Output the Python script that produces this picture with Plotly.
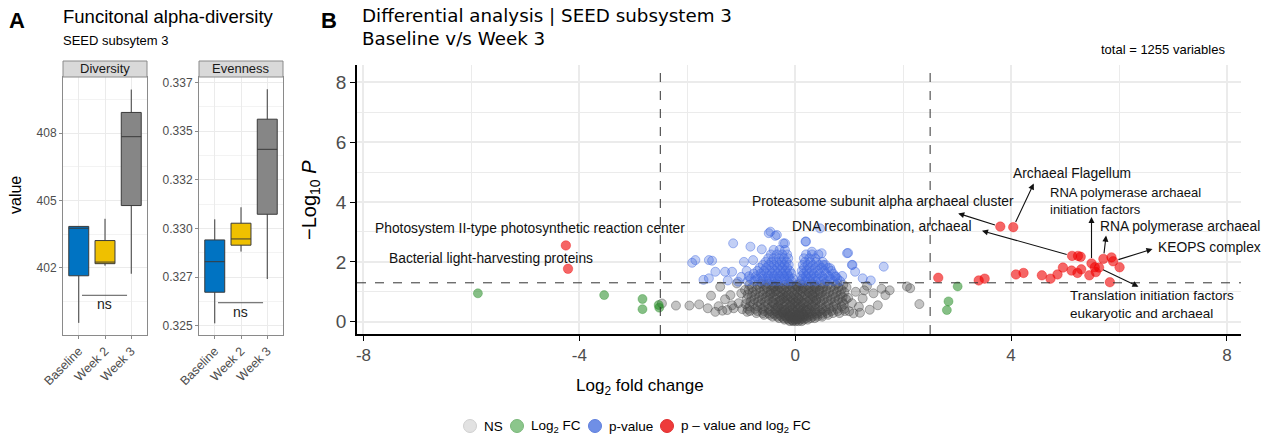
import plotly.graph_objects as go

W, H = 1274, 438

# ---------------- Panel A data ----------------
categories = ["Baseline", "Week 2", "Week 3"]
box_colors = ["#0073C2", "#EFC000", "#868686"]

div_lower = [399.54, 402.09, 401.73]
div_q1 = [401.64, 402.18, 404.77]
div_median = [403.76, 402.25, 407.84]
div_q3 = [403.84, 403.21, 408.92]
div_upper = [403.84, 404.18, 409.94]

even_lower = [0.32512, 0.32881, 0.32740]
even_q1 = [0.32672, 0.32914, 0.33073]
even_median = [0.32829, 0.32946, 0.33407]
even_q3 = [0.32941, 0.33027, 0.33562]
even_upper = [0.33047, 0.33109, 0.33716]

div_ticks = [402, 405, 408]
div_ticktext = ["402", "405", "408"]
even_ticks = [0.325, 0.3275, 0.330, 0.3325, 0.335, 0.3375]
even_ticktext = ["0.325", "0.327", "0.330", "0.332", "0.335", "0.337"]

# ---------------- Panel B data (log2FC, -log10 P) ----------------
ns_rows = """
-2.47 0.61|-2.21 0.54|-1.96 0.54|-1.78 0.58|-1.56 0.87|-1.62 0.45|-1.48 0.33|-1.39 1.17|-1.20 0.89|-1.08 1.28
-1.26 0.39|-1.14 0.45|-0.93 1.06|-0.89 0.33|-1.35 0.37|-1.05 0.62|-1.00 0.95|-1.30 0.75|-1.17 0.55|-0.98 0.42|-1.42 0.52
2.13 1.12|2.07 1.18|2.30 0.59|1.67 0.89|1.53 0.55|1.45 0.95|1.33 1.20|1.25 0.78|1.18 0.50|1.12 1.00|1.05 0.62
1.38 0.40|1.00 0.35|1.60 1.10|1.75 1.05|0.95 1.15|1.20 0.30|1.08 0.28|0.98 0.80|1.28 1.05
-0.10 0.02|-0.04 0.02|0.01 0.02|0.06 0.02|0.12 0.02
-0.20 0.07|-0.13 0.07|-0.07 0.07|-0.01 0.07|0.04 0.07|0.10 0.07|0.16 0.07|0.23 0.07
-0.30 0.12|-0.22 0.12|-0.15 0.12|-0.09 0.12|-0.03 0.12|0.02 0.12|0.08 0.12|0.14 0.12|0.21 0.12|0.29 0.12|0.36 0.12
-0.42 0.17|-0.33 0.17|-0.25 0.17|-0.17 0.17|-0.10 0.17|-0.04 0.17|0.03 0.17|0.09 0.17|0.16 0.17|0.24 0.17|0.32 0.17|0.41 0.17|0.50 0.17
-0.58 0.23|-0.47 0.23|-0.38 0.23|-0.29 0.23|-0.21 0.23|-0.13 0.23|-0.05 0.23|0.02 0.23|0.08 0.23|0.15 0.23|0.23 0.23|0.31 0.23|0.40 0.23|0.50 0.23|0.61 0.23
-0.72 0.29|-0.60 0.29|-0.50 0.29|-0.41 0.29|-0.32 0.29|-0.23 0.29|-0.15 0.29|-0.07 0.29|0.00 0.29|0.07 0.29|0.14 0.29|0.22 0.29|0.31 0.29|0.40 0.29|0.49 0.29|0.59 0.29|0.70 0.29|0.82 0.29
-0.84 0.36|-0.70 0.36|-0.58 0.36|-0.47 0.36|-0.37 0.36|-0.28 0.36|-0.19 0.36|-0.11 0.36|-0.03 0.36|0.04 0.36|0.11 0.36|0.19 0.36|0.28 0.36|0.37 0.36|0.46 0.36|0.56 0.36|0.67 0.36|0.79 0.36|0.92 0.36
-0.88 0.43|-0.74 0.43|-0.61 0.43|-0.49 0.43|-0.37 0.43|-0.26 0.43|-0.15 0.43|-0.05 0.43|0.05 0.43|0.15 0.43|0.26 0.43|0.38 0.43|0.50 0.43|0.63 0.43|0.77 0.43|0.91 0.43
-0.85 0.51|-0.70 0.51|-0.57 0.51|-0.44 0.51|-0.32 0.51|-0.21 0.51|-0.10 0.51|0.00 0.51|0.10 0.51|0.21 0.51|0.32 0.51|0.44 0.51|0.57 0.51|0.71 0.51|0.86 0.51
-0.92 0.59|-0.78 0.59|-0.64 0.59|-0.51 0.59|-0.39 0.59|-0.27 0.59|-0.16 0.59|-0.06 0.59|0.04 0.59|0.14 0.59|0.25 0.59|0.37 0.59|0.49 0.59|0.62 0.59|0.76 0.59|0.90 0.59
-0.83 0.67|-0.69 0.67|-0.56 0.67|-0.43 0.67|-0.31 0.67|-0.20 0.67|-0.09 0.67|0.01 0.67|0.11 0.67|0.22 0.67|0.34 0.67|0.46 0.67|0.59 0.67|0.73 0.67|0.87 0.67
-0.90 0.75|-0.76 0.75|-0.62 0.75|-0.49 0.75|-0.37 0.75|-0.25 0.75|-0.14 0.75|-0.04 0.75|0.06 0.75|0.17 0.75|0.28 0.75|0.40 0.75|0.53 0.75|0.66 0.75|0.80 0.75|0.94 0.75
-0.81 0.83|-0.67 0.83|-0.54 0.83|-0.41 0.83|-0.29 0.83|-0.18 0.83|-0.08 0.83|0.02 0.83|0.12 0.83|0.23 0.83|0.35 0.83|0.47 0.83|0.60 0.83|0.74 0.83|0.88 0.83
-0.88 0.91|-0.74 0.91|-0.60 0.91|-0.47 0.91|-0.35 0.91|-0.23 0.91|-0.12 0.91|-0.02 0.91|0.08 0.91|0.19 0.91|0.31 0.91|0.43 0.91|0.56 0.91|0.70 0.91|0.84 0.91
-0.79 0.99|-0.65 0.99|-0.52 0.99|-0.40 0.99|-0.28 0.99|-0.17 0.99|-0.06 0.99|0.04 0.99|0.14 0.99|0.25 0.99|0.37 0.99|0.50 0.99|0.63 0.99|0.77 0.99|0.91 0.99
-0.86 1.07|-0.72 1.07|-0.58 1.07|-0.45 1.07|-0.33 1.07|-0.21 1.07|-0.10 1.07|0.00 1.07|0.10 1.07|0.21 1.07|0.33 1.07|0.45 1.07|0.58 1.07|0.72 1.07|0.86 1.07
-0.80 1.15|-0.66 1.15|-0.53 1.15|-0.40 1.15|-0.28 1.15|-0.16 1.15|-0.05 1.15|0.05 1.15|0.16 1.15|0.27 1.15|0.39 1.15|0.52 1.15|0.66 1.15|0.80 1.15
-0.85 1.23|-0.70 1.23|-0.56 1.23|-0.43 1.23|-0.31 1.23|-0.19 1.23|-0.08 1.23|0.03 1.23|0.13 1.23|0.24 1.23|0.36 1.23|0.48 1.23|0.61 1.23|0.75 1.23|0.89 1.23
-0.62 1.28|-0.36 1.28|-0.12 1.28|0.09 1.28|0.30 1.28|0.55 1.28|0.78 1.28
-0.05 0.05|0.03 0.10|-0.12 0.20|0.12 0.26|-0.24 0.33|0.21 0.40|-0.33 0.47|0.30 0.55|-0.41 0.63|0.39 0.71
-0.20 0.40|0.08 0.47|-0.09 0.55|0.17 0.63|-0.28 0.71|0.05 0.79|-0.15 0.87|0.26 0.95|-0.36 1.03|0.14 1.11
-0.02 0.63|-0.22 0.79|0.32 0.87|-0.46 0.95|0.45 1.03|-0.25 1.11|0.02 1.19|-0.38 1.19|0.36 1.19|-0.50 1.27
"""

p_rows = """
-1.91 1.97|-1.85 2.06|-1.60 2.06|-1.54 2.04|-1.48 1.67|-1.70 1.40|-1.60 1.45|-1.30 1.67|-1.17 1.67|-1.15 2.62
-1.06 1.34|-0.90 1.70|-0.83 2.51|-0.78 2.06|-0.62 2.42|-0.49 2.96|-0.37 2.87|-0.46 3.01|-0.34 2.90|-0.19 2.62
-0.22 2.62|0.20 2.68|0.31 2.34|0.49 2.29|0.52 1.90|0.65 1.79|0.74 1.51|0.46 3.12|0.19 2.68|0.96 2.29
1.05 1.90|1.64 1.84|0.98 2.30|1.06 1.90|1.11 1.67|0.87 1.53|1.25 1.45|1.40 1.38|-1.25 1.38|-1.00 1.50|-0.95 2.00
-0.88 1.36|-0.76 1.36|-0.64 1.36|-0.53 1.36|-0.43 1.36|-0.33 1.36|-0.24 1.36|-0.15 1.36|-0.07 1.36
-0.82 1.44|-0.70 1.44|-0.59 1.44|-0.48 1.44|-0.38 1.44|-0.29 1.44|-0.20 1.44|-0.11 1.44|-0.04 1.44
-0.86 1.52|-0.73 1.52|-0.61 1.52|-0.50 1.52|-0.40 1.52|-0.30 1.52|-0.21 1.52|-0.12 1.52
-0.77 1.61|-0.64 1.61|-0.53 1.61|-0.43 1.61|-0.33 1.61|-0.24 1.61|-0.15 1.61|-0.07 1.61
-0.70 1.70|-0.58 1.70|-0.47 1.70|-0.37 1.70|-0.27 1.70|-0.18 1.70|-0.10 1.70
-0.66 1.80|-0.54 1.80|-0.43 1.80|-0.33 1.80|-0.24 1.80|-0.15 1.80
-0.60 1.90|-0.49 1.90|-0.39 1.90|-0.29 1.90|-0.20 1.90|-0.12 1.90
-0.55 2.00|-0.44 2.00|-0.34 2.00|-0.25 2.00|-0.16 2.00
-0.50 2.12|-0.40 2.12|-0.30 2.12|-0.21 2.12|-0.13 2.12
-0.45 2.25|-0.34 2.25|-0.24 2.25|-0.15 2.25
-0.40 2.40|-0.29 2.40|-0.19 2.40
0.10 1.36|0.19 1.36|0.28 1.36|0.38 1.36|0.48 1.36|0.59 1.36|0.71 1.36|0.83 1.36
0.13 1.44|0.22 1.44|0.32 1.44|0.42 1.44|0.53 1.44|0.65 1.44|0.78 1.44
0.11 1.52|0.20 1.52|0.29 1.52|0.39 1.52|0.50 1.52|0.62 1.52|0.75 1.52
0.15 1.61|0.24 1.61|0.34 1.61|0.45 1.61|0.57 1.61|0.70 1.61
0.12 1.70|0.21 1.70|0.31 1.70|0.42 1.70|0.54 1.70|0.67 1.70
0.16 1.80|0.26 1.80|0.37 1.80|0.49 1.80|0.61 1.80
0.14 1.90|0.23 1.90|0.33 1.90|0.44 1.90|0.56 1.90
0.18 2.00|0.28 2.00|0.39 2.00|0.51 2.00
0.16 2.12|0.26 2.12|0.37 2.12
0.20 2.25|0.31 2.25|0.43 2.25
"""

fc_x = [-5.88, -3.54, -2.83, -2.83, -2.53, -2.52, 3.01, 2.84, 2.81]
fc_y = [0.95, 0.89, 0.76, 0.42, 0.56, 0.47, 1.18, 0.68, 0.39]

both_x = [-4.25, -4.21, 2.65, 3.40, 3.51, 3.80, 4.04, 4.09, 4.23, 4.57, 4.73, 4.86, 4.96, 5.12,
          5.13, 5.24, 5.29, 5.23, 5.30, 5.45, 5.49, 5.55, 5.57, 5.63, 5.71, 5.83, 5.86, 5.89, 6.01]
both_y = [2.55, 1.77, 1.47, 1.38, 1.44, 3.18, 3.16, 1.58, 1.63, 1.55, 1.44, 1.58, 1.81, 1.71,
          2.20, 2.20, 2.17, 1.63, 1.75, 1.55, 1.95, 1.82, 1.66, 1.81, 2.10, 1.32, 2.15, 2.02, 1.82]


def parse(rows):
    xs, ys = [], []
    for tok in rows.replace("\n", "|").split("|"):
        tok = tok.strip()
        if tok:
            a, b = tok.split()
            xs.append(float(a))
            ys.append(float(b))
    return xs, ys


ns_x, ns_y = parse(ns_rows)
p_x, p_y = parse(p_rows)

fc_cut = 2.5
p_cut = 1.301

labels_text = [
    "Proteasome subunit alpha archaeal cluster",
    "Archaeal Flagellum",
    "RNA polymerase archaeal<br>initiation factors",
    "RNA polymerase archaeal",
    "KEOPS complex",
    "DNA recombination, archaeal",
    "Translation initiation factors<br>eukaryotic and archaeal",
    "Photosystem II-type photosynthetic reaction center",
    "Bacterial light-harvesting proteins",
]
label_sizes = [13.8, 13.8, 13, 13.8, 13.8, 13.8, 13.5, 13.8, 13.8]


def px(x):
    return x / W


def py(y):
    return 1 - y / H


fig = go.Figure()

# ---------------- Panel A boxes ----------------
for i, c in enumerate(categories):
    fig.add_trace(go.Box(
        x=[i + 1], q1=[div_q1[i]], median=[div_median[i]], q3=[div_q3[i]],
        lowerfence=[div_lower[i]], upperfence=[div_upper[i]],
        fillcolor=box_colors[i], line=dict(color="#3a3a3a", width=1),
        width=0.76, whiskerwidth=0, boxpoints=False, showlegend=False,
        xaxis="x", yaxis="y", hoverinfo="skip"))
    fig.add_trace(go.Box(
        x=[i + 1], q1=[even_q1[i]], median=[even_median[i]], q3=[even_q3[i]],
        lowerfence=[even_lower[i]], upperfence=[even_upper[i]],
        fillcolor=box_colors[i], line=dict(color="#3a3a3a", width=1),
        width=0.76, whiskerwidth=0, boxpoints=False, showlegend=False,
        xaxis="x2", yaxis="y2", hoverinfo="skip"))

# ---------------- Panel B points ----------------
fig.add_trace(go.Scatter(
    x=ns_x, y=ns_y, mode="markers", xaxis="x3", yaxis="y3", showlegend=False,
    marker=dict(size=9, color="rgba(70,70,70,0.32)", line=dict(width=1, color="rgba(70,70,70,0.42)"))))
fig.add_trace(go.Scatter(
    x=fc_x, y=fc_y, mode="markers", xaxis="x3", yaxis="y3", showlegend=False,
    marker=dict(size=9, color="rgba(34,139,34,0.55)", line=dict(width=1, color="rgba(34,139,34,0.35)"))))
fig.add_trace(go.Scatter(
    x=p_x, y=p_y, mode="markers", xaxis="x3", yaxis="y3", showlegend=False,
    marker=dict(size=9, color="rgba(65,105,225,0.32)", line=dict(width=1, color="rgba(65,105,225,0.45)"))))
fig.add_trace(go.Scatter(
    x=both_x, y=both_y, mode="markers", xaxis="x3", yaxis="y3", showlegend=False,
    marker=dict(size=9.5, color="rgba(238,0,0,0.6)", line=dict(width=1, color="rgba(238,0,0,0.35)"))))

grid = "#ebebeb"
tick_font = dict(size=12, color="#4d4d4d")

common_a_x = dict(range=[0.4, 3.6], tickmode="array", tickvals=[1, 2, 3], ticktext=categories,
                  tickangle=-45, showgrid=True, gridcolor=grid, gridwidth=1, zeroline=False,
                  showline=True, mirror=True, linecolor="#8a8a8a", linewidth=1, automargin=False,
                  ticks="outside", ticklen=3, tickcolor="#8a8a8a", tickfont=dict(size=12.5, color="#4d4d4d"))

fig.update_layout(
    template="none",
    width=W, height=H, margin=dict(l=0, r=0, t=0, b=0, autoexpand=False),
    paper_bgcolor="white", plot_bgcolor="white", showlegend=False,
    font=dict(family="Liberation Sans, Arial, sans-serif", color="black"),
    xaxis=dict(domain=[px(63), px(147)], anchor="y", **common_a_x),
    yaxis=dict(domain=[py(335), py(77)], anchor="x", range=[399.0, 410.5], automargin=False,
               tickmode="array", tickvals=div_ticks, ticktext=div_ticktext,
               minor=dict(tickvals=[400.5, 403.5, 406.5, 409.5], showgrid=True, gridcolor="#f3f3f3", gridwidth=1, ticks=""),
               showgrid=True, gridcolor=grid, gridwidth=1, zeroline=False,
               showline=True, mirror=True, linecolor="#8a8a8a", linewidth=1,
               ticks="outside", ticklen=3, tickcolor="#8a8a8a", tickfont=tick_font),
    xaxis2=dict(domain=[px(199), px(283)], anchor="y2", **common_a_x),
    yaxis2=dict(domain=[py(335), py(77)], anchor="x2", range=[0.32452, 0.33779], automargin=False,
                tickmode="array", tickvals=even_ticks, ticktext=even_ticktext,
                minor=dict(tickvals=[0.32625, 0.32875, 0.33125, 0.33375, 0.33625], showgrid=True, gridcolor="#f3f3f3", gridwidth=1, ticks=""),
                showgrid=True, gridcolor=grid, gridwidth=1, zeroline=False,
                showline=True, mirror=True, linecolor="#8a8a8a", linewidth=1,
                ticks="outside", ticklen=3, tickcolor="#8a8a8a", tickfont=tick_font),
    xaxis3=dict(domain=[px(357), px(1241)], anchor="y3", range=[-8.12, 8.26], automargin=False,
                tickmode="array", tickvals=[-8, -4, 0, 4, 8], ticktext=["-8", "-4", "0", "4", "8"],
                minor=dict(tickvals=[-6, -2, 2, 6], showgrid=True, gridcolor=grid, gridwidth=1, ticks=""),
                showgrid=True, gridcolor=grid, gridwidth=2, zeroline=False,
                showline=True, linecolor="black", linewidth=1.6,
                ticks="outside", ticklen=5, tickcolor="black", tickwidth=1.2,
                tickfont=dict(size=17, color="#4d4d4d")),
    yaxis3=dict(domain=[py(334), py(65)], anchor="x3", range=[-0.41, 8.58], automargin=False,
                tickmode="array", tickvals=[0, 2, 4, 6, 8], ticktext=["0", "2", "4", "6", "8"],
                minor=dict(tickvals=[1, 3, 5, 7], showgrid=True, gridcolor=grid, gridwidth=1, ticks=""),
                showgrid=True, gridcolor=grid, gridwidth=2, zeroline=False,
                showline=True, linecolor="black", linewidth=1.6,
                ticks="outside", ticklen=5, tickcolor="black", tickwidth=1.2,
                tickfont=dict(size=19, color="#4d4d4d")),
)

shapes = []
for x0, x1 in [(63, 147), (199, 283)]:
    shapes.append(dict(type="rect", xref="paper", yref="paper", x0=px(x0), x1=px(x1), y0=py(77), y1=py(61),
                       fillcolor="#d9d9d9", line=dict(color="#8a8a8a", width=1)))
shapes.append(dict(type="line", xref="x", yref="y", x0=1.124, x1=2.84, y0=400.77, y1=400.77,
                   line=dict(color="#555", width=1)))
shapes.append(dict(type="line", xref="x2", yref="y2", x0=1.124, x1=2.84, y0=0.32618, y1=0.32618,
                   line=dict(color="#555", width=1)))
for xv in (-fc_cut, fc_cut):
    shapes.append(dict(type="line", xref="x3", yref="y3 domain", x0=xv, x1=xv, y0=0, y1=1,
                       line=dict(color="#333", width=1, dash="dash")))
shapes.append(dict(type="line", xref="x3 domain", yref="y3", x0=0, x1=1, y0=p_cut, y1=p_cut,
                   line=dict(color="#333", width=1, dash="dash")))
leg_cols = [("#e2e2e2", "#d0d0d0"), ("#8cc68c", "#7ab87a"), ("#6f8fe6", "#6080dd"), ("#ee3b3b", "#e03030")]
leg_cx = [470, 517, 595, 667]
for cx, (fc, lc) in zip(leg_cx, leg_cols):
    r = 6.5
    shapes.append(dict(type="circle", xref="paper", yref="paper", x0=px(cx - r), x1=px(cx + r),
                       y0=py(426 + r), y1=py(426 - r), fillcolor=fc, line=dict(color=lc, width=1)))

ann = []


def T(x, y, text, size, xanchor="left", yanchor="middle", family=None, color="black", angle=0):
    f = dict(size=size, color=color)
    if family:
        f["family"] = family
    ann.append(dict(x=px(x), y=py(y), xref="paper", yref="paper", text=text, showarrow=False,
                    xanchor=xanchor, yanchor=yanchor, font=f, textangle=angle))


T(7, 21, "<b>A</b>", 22)
T(61, 17, "Funcitonal alpha-diversity", 18.5)
T(61, 41, "SEED subsytem 3", 13)
T(105, 69, "Diversity", 13, xanchor="center", color="#1a1a1a")
T(241, 69, "Evenness", 13, xanchor="center", color="#1a1a1a")
T(15, 195, "value", 16, xanchor="center", angle=-90)
T(319, 21, "<b>B</b>", 22)
T(360, 15, "Differential analysis | SEED subsystem 3", 18.3, family="DejaVu Sans, Verdana")
T(360, 38, "Baseline v/s Week 3", 18.3, family="DejaVu Sans, Verdana")
T(1227, 50, "total = 1255 variables", 13, xanchor="right")
T(310, 200, "\u2212Log<sub>10</sub> <i>P</i>", 20, xanchor="center", angle=-90)
T(640, 387, "Log<sub>2</sub> fold change", 17, xanchor="center")
T(leg_cx[0] + 12, 426, "NS", 13.5)
T(leg_cx[1] + 12, 426, "Log<sub>2</sub> FC", 13.5)
T(leg_cx[2] + 12, 426, "p-value", 13.5)
T(leg_cx[3] + 12, 426, "p \u2013 value and log<sub>2</sub> FC", 13.5)

ann.append(dict(x=1.98, y=400.36, xref="x", yref="y", text="ns", showarrow=False,
                font=dict(size=14, color="#222"), yanchor="middle"))
ann.append(dict(x=1.98, y=0.3257, xref="x2", yref="y2", text="ns", showarrow=False,
                font=dict(size=14, color="#222"), yanchor="middle"))

label_pos = [
    (4.09, 4.01, "right"), (4.00, 4.96, "left"), (4.68, 4.05, "left"),
    (5.61, 3.19, "left"), (6.69, 2.47, "left"), (-0.10, 3.18, "left"), (5.05, 0.57, "left"),
    (-7.83, 3.10, "left"), (-7.57, 2.12, "left"),
]
for (lx, ly, xa), txt, fs in zip(label_pos, labels_text, label_sizes):
    ann.append(dict(x=lx, y=ly, xref="x3", yref="y3", text=txt, showarrow=False, xanchor=xa,
                    yanchor="middle", align="left", font=dict(size=fs, color="#111")))

arrows = [
    ((3.80, 3.18), (3.02, 3.62)),
    ((4.04, 3.16), (4.42, 4.62)),
    ((5.49, 1.95), (5.49, 3.50)),
    ((5.71, 2.10), (5.76, 2.88)),
    ((5.89, 2.02), (6.62, 2.43)),
    ((5.13, 2.20), (3.46, 3.04)),
    ((5.61, 1.82), (6.36, 1.17)),
]
for (tx, ty), (hx, hy) in arrows:
    ann.append(dict(x=hx, y=hy, ax=tx, ay=ty, xref="x3", yref="y3", axref="x3", ayref="y3",
                    text="", showarrow=True, arrowhead=2, arrowsize=1.1, arrowwidth=1.1,
                    arrowcolor="#111", startstandoff=4))

fig.update_layout(shapes=shapes, annotations=ann)
fig.write_html("out.html")
